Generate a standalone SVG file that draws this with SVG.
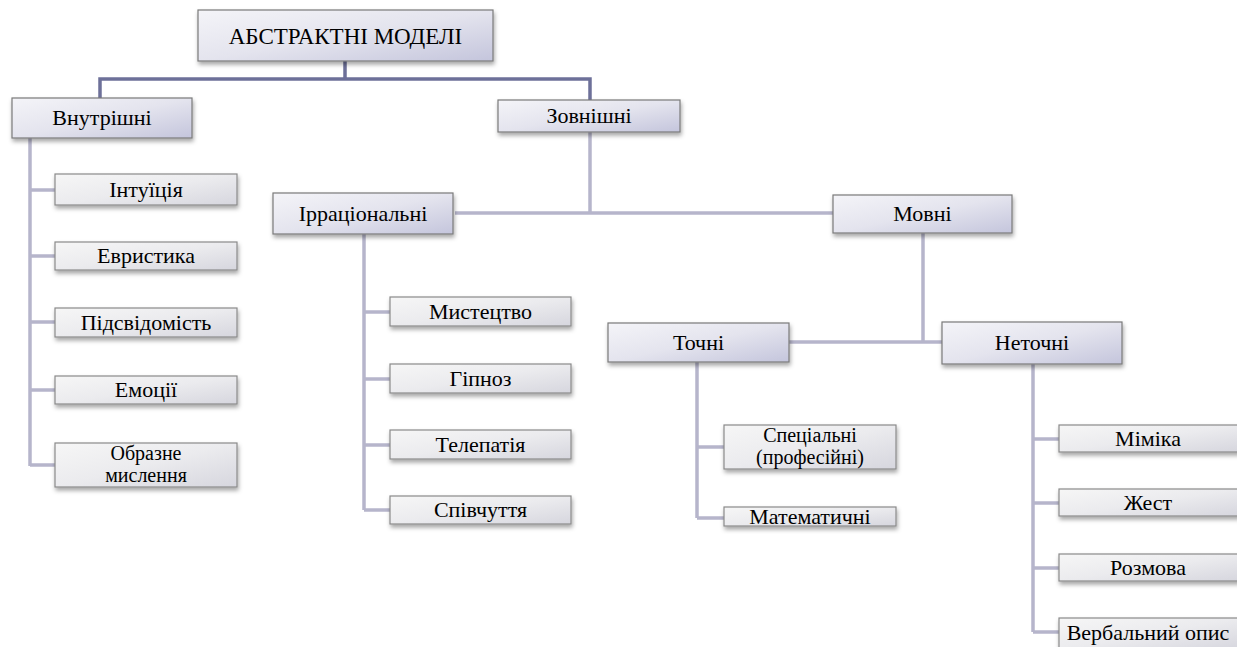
<svg xmlns="http://www.w3.org/2000/svg" width="1237" height="647" viewBox="0 0 1237 647">
<style>
text{font-family:"Liberation Serif","Liberation Sans",serif;font-size:22px;fill:#000;text-anchor:middle}
.big{font-size:23px}
.two{font-size:20px}
.b1{fill:url(#g1);stroke:#7a7a7a;stroke-width:1.2;filter:url(#sh)}
.b2{fill:url(#g2);stroke:#8a8a8a;stroke-width:1.2;filter:url(#sh)}
.cd{stroke:#6d7099;stroke-width:3.5;fill:none}
.cl{stroke:#b6b5cb;stroke-width:3.5;fill:none}
</style>
<defs>
<linearGradient id="g1" x1="0" y1="0" x2="1" y2="1">
<stop offset="0" stop-color="#f4f4f8"/><stop offset="0.5" stop-color="#e4e4ee"/><stop offset="1" stop-color="#c4c5dc"/>
</linearGradient>
<linearGradient id="g2" x1="0" y1="0" x2="1" y2="1">
<stop offset="0" stop-color="#f6f6f6"/><stop offset="0.5" stop-color="#ebebee"/><stop offset="1" stop-color="#d6d6de"/>
</linearGradient>
<filter id="sh" x="-10%" y="-20%" width="125%" height="160%">
<feDropShadow dx="1" dy="3" stdDeviation="2" flood-color="#000" flood-opacity="0.35"/>
</filter>
</defs>
<g id="connectors">
<path class="cd" d="M345 61V79M100 98V79H590V100"/>
<path class="cl" d="M30 138V466M30 190H55M30 256H55M30 322H55M30 390H55M30 465H55"/>
<path class="cl" d="M590 132V213M455 213H833"/>
<path class="cl" d="M364 234V510M364 312H390M364 379H390M364 445H390M364 510H390"/>
<path class="cl" d="M923 233V342M789 342H943"/>
<path class="cl" d="M697 362V518M697 447H724M697 518H724"/>
<path class="cl" d="M1033 364V632M1033 439H1059M1033 503H1059M1033 568H1059M1033 632H1059"/>
</g>
<g id="n-root"><rect class="b1" x="198" y="10" width="295" height="51"/><text class="big" x="345.5" y="44">АБСТРАКТНІ МОДЕЛІ</text></g>
<g id="n-vnutr"><rect class="b1" x="12" y="98" width="180" height="40"/><text x="102" y="125">Внутрішні</text></g>
<g id="n-zovn"><rect class="b1" x="498" y="100" width="182" height="32"/><text x="589" y="123">Зовнішні</text></g>
<g id="n-intu"><rect class="b2" x="55" y="174" width="182" height="31"/><text x="146" y="197">Інтуїція</text></g>
<g id="n-evr"><rect class="b2" x="55" y="242" width="182" height="28"/><text x="146" y="263">Евристика</text></g>
<g id="n-pids"><rect class="b2" x="55" y="308" width="182" height="29"/><text x="146" y="330">Підсвідомість</text></g>
<g id="n-emo"><rect class="b2" x="55" y="376" width="182" height="28"/><text x="146" y="397">Емоції</text></g>
<g id="n-obr"><rect class="b2" x="55" y="443" width="182" height="44"/><text class="two" x="146" y="460">Образне<tspan x="146" dy="22">мислення</tspan></text></g>
<g id="n-irr"><rect class="b1" x="273" y="193" width="180" height="41"/><text x="363" y="221">Ірраціональні</text></g>
<g id="n-myst"><rect class="b2" x="390" y="297" width="181" height="29"/><text x="480.5" y="319">Мистецтво</text></g>
<g id="n-hip"><rect class="b2" x="390" y="364" width="181" height="29"/><text x="480.5" y="386">Гіпноз</text></g>
<g id="n-tel"><rect class="b2" x="390" y="430" width="181" height="29"/><text x="480.5" y="452">Телепатія</text></g>
<g id="n-spiv"><rect class="b2" x="390" y="496" width="181" height="28"/><text x="480.5" y="517">Співчуття</text></g>
<g id="n-movni"><rect class="b1" x="833" y="195" width="179" height="38"/><text x="922.5" y="221">Мовні</text></g>
<g id="n-tochni"><rect class="b1" x="608" y="323" width="181" height="39"/><text x="698.5" y="350">Точні</text></g>
<g id="n-netochni"><rect class="b1" x="942" y="322" width="180" height="42"/><text x="1032" y="350">Неточні</text></g>
<g id="n-spec"><rect class="b2" x="724" y="425" width="172" height="44"/><text class="two" x="810" y="442">Спеціальні<tspan x="810" dy="22">(професійні)</tspan></text></g>
<g id="n-mat"><rect class="b2" x="724" y="507" width="172" height="19"/><text x="810" y="524">Математичні</text></g>
<g id="n-mimika"><rect class="b2" x="1059" y="425" width="180" height="27"/><text x="1148" y="446">Міміка</text></g>
<g id="n-zhest"><rect class="b2" x="1059" y="489" width="180" height="27"/><text x="1148" y="510">Жест</text></g>
<g id="n-rozm"><rect class="b2" x="1059" y="554" width="180" height="27"/><text x="1148" y="575">Розмова</text></g>
<g id="n-verb"><rect class="b2" x="1059" y="618" width="180" height="32"/><text x="1148" y="640">Вербальний опис</text></g>
</svg>
